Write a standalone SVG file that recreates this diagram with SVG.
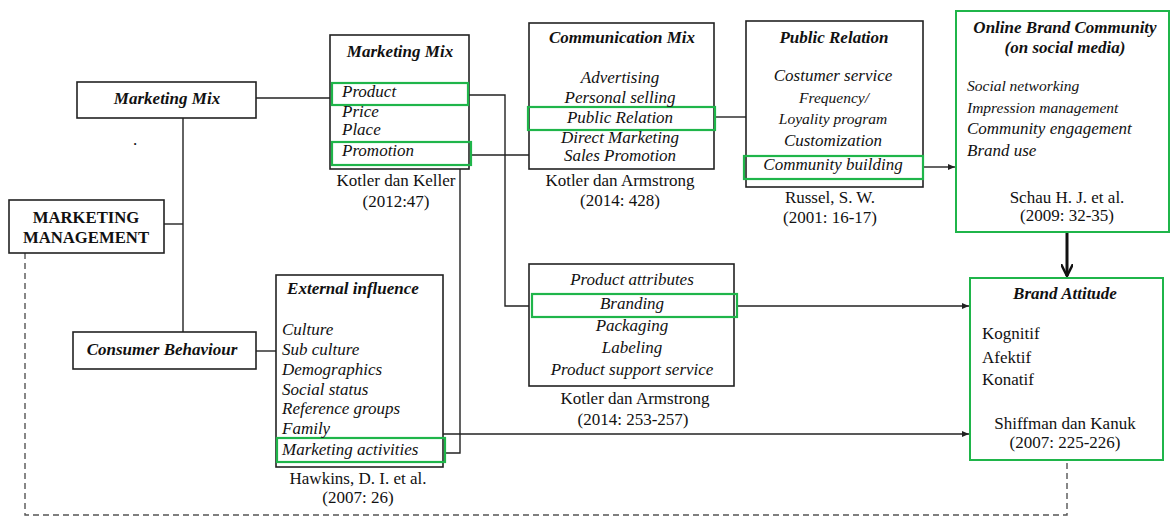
<svg xmlns="http://www.w3.org/2000/svg" width="1171" height="516" viewBox="0 0 1171 516">
<style>
.box{fill:#fff;stroke:#222;stroke-width:1.6}
.gbox{fill:#fff;stroke:#1fb54a;stroke-width:2}
.hl{fill:none;stroke:#1fb54a;stroke-width:2.2}
.ln{fill:none;stroke:#222;stroke-width:1.4}
.dash{fill:none;stroke:#555;stroke-width:1.4;stroke-dasharray:6 4}
text{font-family:"Liberation Serif","Times New Roman",serif;fill:#111;font-size:17px}
.t{font-weight:bold;font-style:italic;text-anchor:middle}
.i{font-style:italic}
.ic{font-style:italic;text-anchor:middle}
.c{text-anchor:middle}
.b{font-weight:bold;text-anchor:middle;font-size:16.7px}
.s{font-size:15.5px}
</style>
<defs>
<marker id="ah" markerWidth="8" markerHeight="8" refX="7" refY="4" orient="auto" markerUnits="userSpaceOnUse">
<path d="M0,1 L7,4 L0,7 Z" fill="#222"/>
</marker>
<marker id="ahb" markerWidth="14" markerHeight="12" refX="12" refY="6" orient="auto" markerUnits="userSpaceOnUse">
<path d="M0,0 L12,6 L0,12" fill="none" stroke="#111" stroke-width="2.5"/>
</marker>
</defs>

<g id="connectors">
<path class="ln" d="M164,224 H183"/>
<path class="ln" d="M183,118 V332"/>
<path class="ln" d="M256,98 H332"/>
<path class="ln" d="M256,351 H276"/>
<path class="ln" d="M468,95 H505 V306 H532"/>
<path class="ln" d="M471,155 H529"/>
<path class="ln" d="M460,169 V453 H445"/>
<path class="ln" d="M443,434 H969" marker-end="url(#ah)"/>
<path class="ln" d="M737,306 H969" marker-end="url(#ah)"/>
<path class="ln" d="M715,117 H746"/>
<path class="ln" d="M923,167 H955" marker-end="url(#ah)"/>
<path fill="none" stroke="#111" stroke-width="3" d="M1067,232 V276" marker-end="url(#ahb)"/>
<path class="dash" d="M25,253 V515 H1067 V460"/>
</g>

<g id="marketing-mix-left">
<rect class="box" x="77" y="82" width="179" height="36"/>
<text class="t" x="167" y="104" font-size="17.5">Marketing Mix</text>
</g>

<text x="133" y="145" font-size="10">.</text>

<g id="marketing-management">
<rect class="box" x="9" y="200" width="155" height="53"/>
<text class="b" x="86" y="223">MARKETING</text>
<text class="b" x="86" y="243">MANAGEMENT</text>
</g>

<g id="consumer-behaviour">
<rect class="box" x="73" y="332" width="183" height="37"/>
<text class="t" x="162" y="355" font-size="17.5">Consumer Behaviour</text>
</g>

<g id="marketing-mix">
<rect class="box" x="330" y="35" width="139" height="134"/>
<text class="t" x="400" y="57" font-size="17.5">Marketing Mix</text>
<rect class="hl" x="332" y="83" width="136" height="22"/>
<rect class="hl" x="332" y="142" width="139" height="23"/>
<text class="i" x="342" y="97">Product</text>
<text class="i" x="342" y="117">Price</text>
<text class="i" x="342" y="135">Place</text>
<text class="i" x="342" y="156">Promotion</text>
<text class="c" x="396" y="186">Kotler dan Keller</text>
<text class="c" x="396" y="207">(2012:47)</text>
</g>

<g id="communication-mix">
<rect class="box" x="529" y="23" width="185" height="146"/>
<text class="t" x="622" y="43">Communication Mix</text>
<rect class="hl" x="528" y="107" width="187" height="23"/>
<text class="ic" x="620" y="83">Advertising</text>
<text class="ic" x="620" y="103">Personal selling</text>
<text class="ic" x="620" y="123">Public Relation</text>
<text class="ic" x="620" y="143">Direct Marketing</text>
<text class="ic" x="620" y="161">Sales Promotion</text>
<text class="c" x="620" y="186">Kotler dan Armstrong</text>
<text class="c" x="620" y="206">(2014: 428)</text>
</g>

<g id="public-relation">
<rect class="box" x="746" y="21" width="177" height="166"/>
<text class="t" x="834" y="43">Public Relation</text>
<rect class="hl" x="744" y="156" width="179" height="23"/>
<text class="ic" x="833" y="81">Costumer service</text>
<text class="ic s" x="834" y="103">Frequency/</text>
<text class="ic s" x="833" y="124">Loyality program</text>
<text class="ic" x="833" y="146">Customization</text>
<text class="ic" x="833" y="170">Community building</text>
<text class="c" x="830" y="203">Russel, S. W.</text>
<text class="c" x="830" y="223">(2001: 16-17)</text>
</g>

<g id="online-brand-community">
<rect class="gbox" x="956" y="11" width="213" height="221"/>
<text class="t" x="1065" y="33">Online Brand Community</text>
<text class="t" x="1065" y="53">(on social media)</text>
<text class="i s" x="967" y="91">Social networking</text>
<text class="i s" x="967" y="113">Impression management</text>
<text class="i" x="967" y="134">Community engagement</text>
<text class="i" x="967" y="156">Brand use</text>
<text class="c" x="1067" y="203">Schau H. J. et al.</text>
<text class="c" x="1067" y="221">(2009: 32-35)</text>
</g>

<g id="external-influence">
<rect class="box" x="276" y="275" width="167" height="192"/>
<text class="t" x="353" y="294">External influence</text>
<rect class="hl" x="277" y="438" width="168" height="24"/>
<text class="i" x="282" y="335">Culture</text>
<text class="i" x="282" y="355">Sub culture</text>
<text class="i" x="282" y="375">Demographics</text>
<text class="i" x="282" y="395">Social status</text>
<text class="i" x="282" y="414">Reference groups</text>
<text class="i" x="282" y="434">Family</text>
<text class="i" x="282" y="455">Marketing activities</text>
<text class="c" x="358" y="484">Hawkins, D. I. et al.</text>
<text class="c" x="358" y="503">(2007: 26)</text>
</g>

<g id="product-attributes">
<rect class="box" x="529" y="264" width="205" height="122"/>
<rect class="hl" x="532" y="294" width="205" height="23"/>
<text class="ic" x="632" y="285">Product attributes</text>
<text class="ic" x="632" y="309">Branding</text>
<text class="ic" x="632" y="331">Packaging</text>
<text class="ic" x="632" y="353">Labeling</text>
<text class="ic" x="632" y="375">Product support service</text>
<text class="c" x="635" y="404">Kotler dan Armstrong</text>
<text class="c" x="633" y="425">(2014: 253-257)</text>
</g>

<g id="brand-attitude">
<rect class="gbox" x="970" y="278" width="193" height="182"/>
<text class="t" x="1065" y="299">Brand Attitude</text>
<text x="982" y="339">Kognitif</text>
<text x="982" y="363">Afektif</text>
<text x="982" y="385">Konatif</text>
<text class="c" x="1065" y="429">Shiffman dan Kanuk</text>
<text class="c" x="1065" y="448">(2007: 225-226)</text>
</g>
</svg>
